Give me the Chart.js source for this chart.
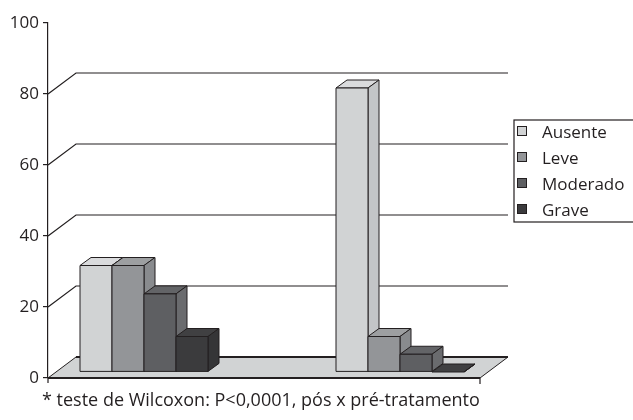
<!DOCTYPE html>
<html>
<head>
<meta charset="utf-8">
<script src="https://cdn.jsdelivr.net/npm/chart.js@4/dist/chart.umd.min.js"></script>
<style>
  html, body { margin: 0; padding: 0; background: #ffffff; }
  #wrap { width: 633px; height: 420px; }
</style>
</head>
<body>
<div id="wrap"><canvas id="c" width="633" height="420"></canvas></div>
<script>
// ---- data ----
const categories = ['Pré-tratamento', 'Pós-tratamento'];
const seriesNames = ['Ausente', 'Leve', 'Moderado', 'Grave'];
const ausente = [30, 80];
const leve = [30, 10];
const moderado = [22, 5];
const grave = [10, 0];
const yTickValues = [0, 20, 40, 60, 80, 100];
const caption = '* teste de Wilcoxon: P<0,0001, pós x pré-tratamento';

// ---- styles ----
const INK = '#231f20';
const FONT = '"Open Sans", "DejaVu Sans", sans-serif';
const faces = [
  { front: '#d1d3d4', top: '#dadbdd', side: '#c3c5c7' },
  { front: '#939598', top: '#9d9fa1', side: '#898b8e' },
  { front: '#5e5f62', top: '#636467', side: '#6a6b6e' },
  { front: '#3b3b3d', top: '#404042', side: '#353537' }
];
const FLOOR = { dx: 28, dy: -21 };
const BAR_OFF = { dx: 8, dy: -6 };
const BAR_DEPTH = { dx: 11, dy: -8 };

const seriesValues = [ausente, leve, moderado, grave];

const datasets = seriesNames.map((name, s) => ({
  label: name,
  data: seriesValues[s].map((v, i) => ({ x: i, y: v })),
  backgroundColor: faces[s].front,
  borderColor: INK,
  barThickness: 32
}));

const threeD = {
  id: 'threeD',
  beforeDatasetsDraw(chart) {
    const ctx = chart.ctx;
    const a = chart.chartArea;
    const ys = chart.scales.y;
    const L = a.left, R = a.right, yb = ys.getPixelForValue(0);
    ctx.save();
    // floor
    ctx.beginPath();
    ctx.moveTo(L, yb);
    ctx.lineTo(R, yb);
    ctx.lineTo(R + FLOOR.dx, yb + FLOOR.dy);
    ctx.lineTo(L + FLOOR.dx, yb + FLOOR.dy);
    ctx.closePath();
    ctx.fillStyle = '#d1d3d4';
    ctx.fill();
    ctx.strokeStyle = INK;
    ctx.lineWidth = 1;
    ctx.beginPath();
    ctx.moveTo(L, yb); ctx.lineTo(L + FLOOR.dx, yb + FLOOR.dy);
    ctx.moveTo(R, yb); ctx.lineTo(R + FLOOR.dx, yb + FLOOR.dy);
    ctx.stroke();
    ctx.lineWidth = 2;
    ctx.beginPath();
    ctx.moveTo(L + FLOOR.dx, yb + FLOOR.dy); ctx.lineTo(R + FLOOR.dx, yb + FLOOR.dy);
    ctx.stroke();
    // back gridlines
    ctx.lineWidth = 1.2;
    yTickValues.forEach(v => {
      if (v === 0 || v === ys.max) return;
      const y = ys.getPixelForValue(v);
      ctx.beginPath();
      ctx.moveTo(L, y);
      ctx.lineTo(L + FLOOR.dx, y + FLOOR.dy);
      ctx.lineTo(R + FLOOR.dx, y + FLOOR.dy);
      ctx.stroke();
    });
    // bars, left to right
    const bars = [];
    chart.data.datasets.forEach((ds, s) => {
      chart.getDatasetMeta(s).data.forEach(el => bars.push({ el, s }));
    });
    bars.sort((p, q) => p.el.x - q.el.x);
    ctx.lineWidth = 1;
    ctx.strokeStyle = INK;
    ctx.lineJoin = 'miter';
    bars.forEach(({ el, s }) => {
      const f = faces[s];
      const x0 = el.x - el.width / 2 + BAR_OFF.dx;
      const x1 = el.x + el.width / 2 + BAR_OFF.dx;
      const yt = el.y + BAR_OFF.dy;
      const ybot = el.base + BAR_OFF.dy;
      // top
      ctx.beginPath();
      ctx.moveTo(x0, yt); ctx.lineTo(x1, yt);
      ctx.lineTo(x1 + BAR_DEPTH.dx, yt + BAR_DEPTH.dy);
      ctx.lineTo(x0 + BAR_DEPTH.dx, yt + BAR_DEPTH.dy);
      ctx.closePath();
      ctx.fillStyle = f.top; ctx.fill(); ctx.stroke();
      // side
      ctx.beginPath();
      ctx.moveTo(x1, yt);
      ctx.lineTo(x1 + BAR_DEPTH.dx, yt + BAR_DEPTH.dy);
      ctx.lineTo(x1 + BAR_DEPTH.dx, ybot + BAR_DEPTH.dy);
      ctx.lineTo(x1, ybot);
      ctx.closePath();
      ctx.fillStyle = f.side; ctx.fill(); ctx.stroke();
      // front
      if (ybot - yt > 0.5) {
        ctx.beginPath();
        ctx.rect(x0, yt, x1 - x0, ybot - yt);
        ctx.fillStyle = f.front; ctx.fill(); ctx.stroke();
      }
    });
    ctx.restore();
    return false;
  },
  afterDraw(chart) {
    const ctx = chart.ctx;
    const a = chart.chartArea;
    const ys = chart.scales.y;
    const L = a.left, R = a.right, yb = ys.getPixelForValue(0);
    ctx.save();
    ctx.strokeStyle = INK;
    // front floor edge
    ctx.lineWidth = 2.2;
    ctx.beginPath();
    ctx.moveTo(L, yb); ctx.lineTo(R, yb);
    ctx.stroke();
    // axis end ticks below floor
    ctx.lineWidth = 1.2;
    ctx.beginPath();
    ctx.moveTo(L, yb); ctx.lineTo(L, yb + 5);
    ctx.moveTo(R, yb); ctx.lineTo(R, yb + 6);
    ctx.stroke();
    // legend
    const lx = 514, ly = 120, lh = 102;
    ctx.lineWidth = 1.2;
    ctx.strokeRect(lx, ly, 140, lh);
    ctx.font = '17px ' + FONT;
    ctx.textBaseline = 'alphabetic';
    ctx.textAlign = 'left';
    chart.data.datasets.forEach((ds, s) => {
      const base = 138 + s * 26;
      ctx.fillStyle = faces[s].front;
      ctx.fillRect(517.5, base - 11.5, 9, 9);
      ctx.lineWidth = 1;
      ctx.strokeRect(517.5, base - 11.5, 9, 9);
      ctx.fillStyle = INK;
      ctx.fillText(ds.label, 542, base);
    });
    // caption
    ctx.font = '18px ' + FONT;
    ctx.fillStyle = INK;
    ctx.fillText(caption, 42, 406);
    ctx.restore();
  }
};

new Chart(document.getElementById('c'), {
  type: 'bar',
  data: { labels: categories, datasets },
  options: {
    responsive: false,
    animation: false,
    layout: { padding: { top: 23, right: 153, bottom: 42, left: 0 } },
    plugins: { legend: { display: false }, tooltip: { enabled: false } },
    scales: {
      x: {
        type: 'linear',
        offset: false,
        min: -0.34375,
        max: 1.34375,
        display: false,
        afterBuildTicks: s => { s.ticks = [{ value: 0 }, { value: 1 }]; }
      },
      y: {
        min: 0,
        max: 100,
        afterBuildTicks: s => { s.ticks = yTickValues.map(v => ({ value: v })); },
        afterFit: s => { s.width = 48; },
        ticks: { font: { family: FONT, size: 17 }, color: INK, padding: 4 },
        grid: { drawOnChartArea: false, drawTicks: true, tickLength: 5, color: INK, lineWidth: 1.2 },
        border: { display: true, color: INK, width: 1.2 }
      }
    }
  },
  plugins: [threeD]
});
</script>
</body>
</html>
